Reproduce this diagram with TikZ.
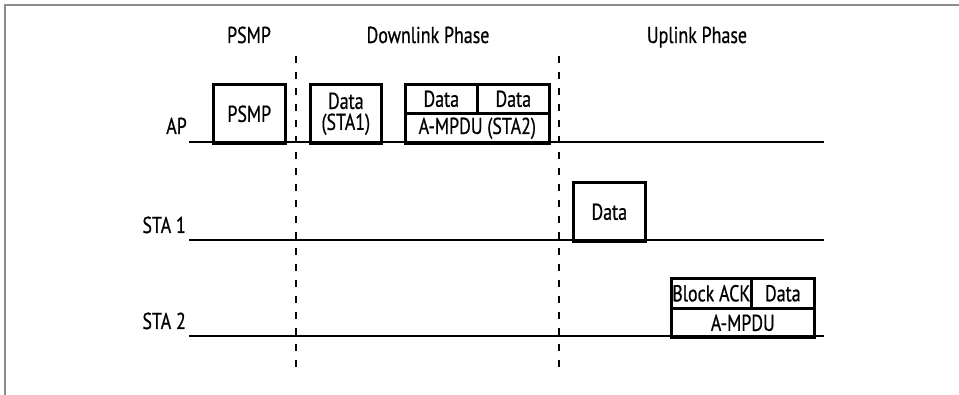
\documentclass[tikz,border=0pt]{standalone}
\usepackage{fontspec}
\setmainfont[FakeStretch=0.78,FakeBold=0.6]{PT Sans}
\begin{document}
\begin{tikzpicture}[x=1pt,y=-1pt,
  lbl/.style={font=\fontsize{23}{23}\selectfont, inner sep=0pt},
  cell/.style={draw, line width=2.6pt, inner sep=0pt, anchor=north west, font=\fontsize{23}{23}\selectfont, align=center},
  baseline/.style={line width=2.6pt},
  phase/.style={line width=2.8pt, dash pattern=on 7pt off 9pt},
  frame/.style={draw=black!45, line width=1.2pt}]
\useasboundingbox (0,0) rectangle (959,395);
% frame
\coordinate (f1) at (5,395);
\coordinate (f2) at (5,5);
\coordinate (f3) at (959,5);
\draw[frame] (f1) -- (f2) -- (f3);
% timelines
\coordinate (apL) at (189,142); \coordinate (apR) at (824,142);
\coordinate (s1L) at (189,240); \coordinate (s1R) at (824,240);
\coordinate (s2L) at (189,336); \coordinate (s2R) at (824,336);
\draw[baseline] (apL) -- (apR);
\draw[baseline] (s1L) -- (s1R);
\draw[baseline] (s2L) -- (s2R);
% phase separators
\coordinate (d1t) at (296,56); \coordinate (d1b) at (296,367);
\coordinate (d2t) at (559,56); \coordinate (d2b) at (559,367);
\draw[phase] (d1t) -- (d1b);
\draw[phase] (d2t) -- (d2b);
% headers
\node[lbl, anchor=base] (hPSMP) at (249,43) {PSMP};
\node[lbl, anchor=base] (hDown) at (428,43) {Downlink Phase};
\node[lbl, anchor=base] (hUp) at (697,43) {Uplink Phase};
% row labels
\node[lbl, anchor=base east] (lAP) at (187,134) {AP};
\node[lbl, anchor=base east] (lS1) at (186,233) {STA 1};
\node[lbl, anchor=base east] (lS2) at (186,329) {STA 2};
% AP frames
\node[cell, minimum width=72pt, minimum height=59pt] (psmp) at (212,83) {PSMP};
\node[cell, minimum width=71pt, minimum height=59pt] (d1) at (309,83) {Data\\[-2pt](STA1)};
\node[cell, minimum width=72pt, minimum height=29pt] (d2a) at (404,83) {Data};
\node[cell, minimum width=72pt, minimum height=29pt] (d2b) at (476,83) {Data};
\node[cell, minimum width=144pt, minimum height=30pt] (agg) at (404,112) {A-MPDU (STA2)};
% STA1 frame
\node[cell, minimum width=72pt, minimum height=59pt] (s1d) at (572,181) {Data};
% STA2 frames
\node[cell, minimum width=80pt, minimum height=30pt] (back) at (670,277) {Block ACK};
\node[cell, minimum width=63pt, minimum height=30pt] (s2d) at (750,277) {Data};
\node[cell, minimum width=143pt, minimum height=29pt] (agg2) at (670,307) {A-MPDU};
\end{tikzpicture}
\end{document}
